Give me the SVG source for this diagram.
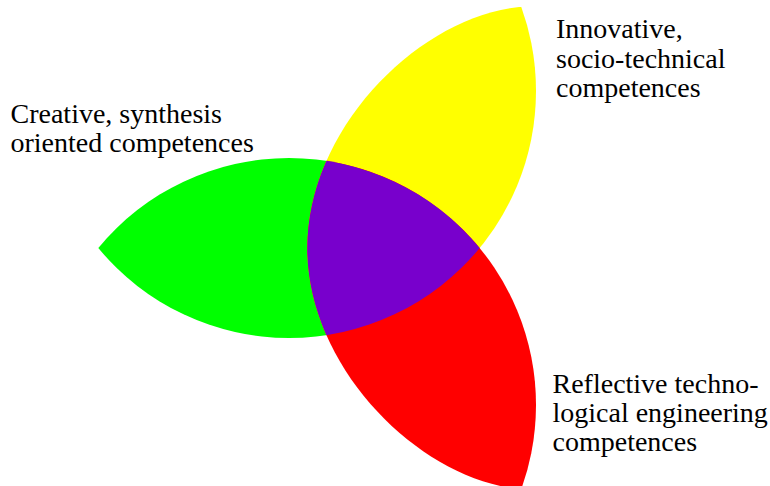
<svg xmlns="http://www.w3.org/2000/svg" width="770" height="486" viewBox="0 0 770 486">
<defs>
<style>
.lbl{font-family:'Liberation Serif','Tinos','Times New Roman','DejaVu Serif',serif;font-size:28px;fill:#000}
</style>
<clipPath id="inner"><path d="M 519,7 C 419,17 307.3,128 307.3,248 C 307.3,368 419,479 519,489 L 800,489 L 800,7 Z"/></clipPath>
<path id="lens" d="M 98.32,248 A 247 247 0 0 1 479.68,248 A 247 247 0 0 1 98.32,248 Z"/>
</defs>
<rect width="770" height="486" fill="#ffffff"/>
<g id="green-leaf"><use href="#lens" fill="#00ff00"/></g>
<g id="yellow-leaf"><circle cx="289" cy="91" r="247" fill="#ffff00" clip-path="url(#inner)"/></g>
<g id="red-leaf"><circle cx="289" cy="405" r="247" fill="#ff0000" clip-path="url(#inner)"/></g>
<g id="core"><use href="#lens" fill="#7800cc" clip-path="url(#inner)"/></g>
<g id="label-creative" class="lbl">
<text x="10.5" y="122.5">Creative, synthesis</text>
<text x="10.5" y="152">oriented competences</text>
</g>
<g id="label-innovative" class="lbl">
<text x="556" y="38">Innovative,</text>
<text x="556" y="67.5">socio-technical</text>
<text x="556" y="97">competences</text>
</g>
<g id="label-reflective" class="lbl">
<text x="552.5" y="393">Reflective techno-</text>
<text x="552.5" y="422">logical engineering</text>
<text x="552.5" y="451">competences</text>
</g>
</svg>
